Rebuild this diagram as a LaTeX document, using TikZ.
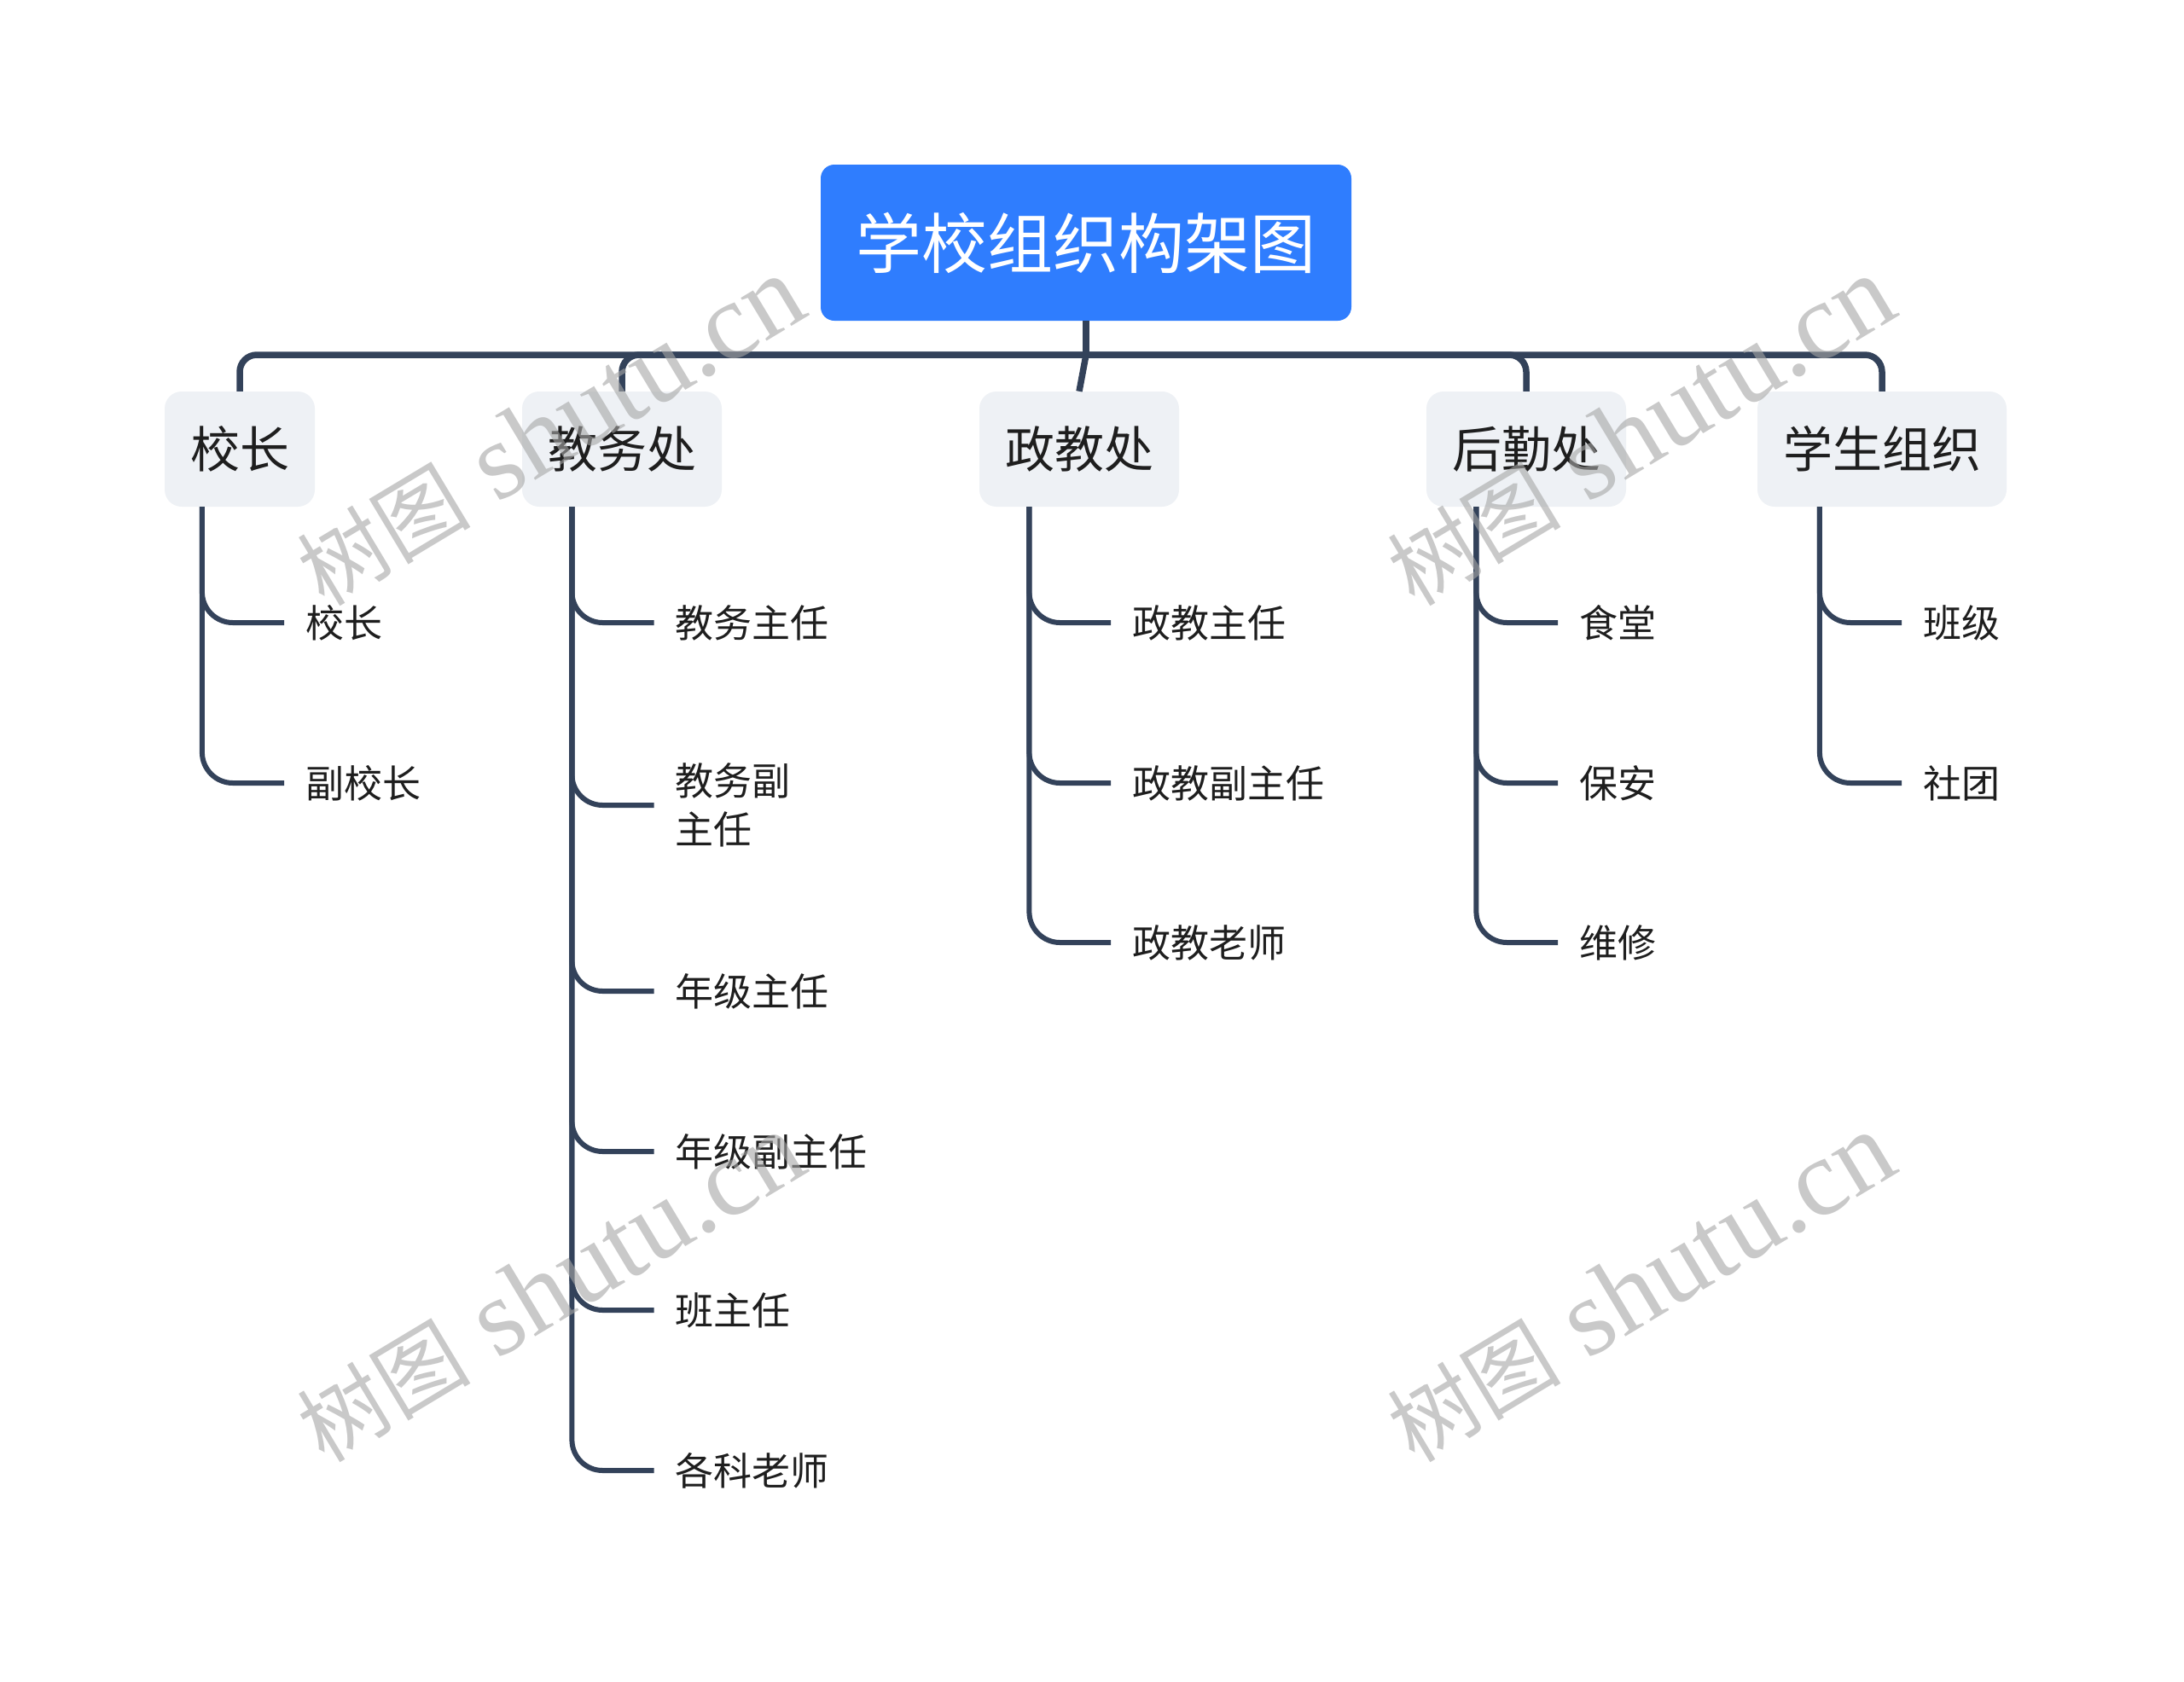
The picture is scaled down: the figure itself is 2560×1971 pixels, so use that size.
\documentclass[tikz,border=0pt]{standalone}
\usepackage{fontspec}
\setmainfont{Liberation Serif}
\newfontfamily\cjk{Noto Sans CJK SC}
\usetikzlibrary{calc}
\definecolor{rootblue}{HTML}{2F7DFE}
\definecolor{catgray}{HTML}{EEF1F5}
\definecolor{linecol}{HTML}{33425A}
\definecolor{textblack}{HTML}{1E1E1E}
\begin{document}
\begin{tikzpicture}[x=1pt,y=-1pt,
  rootbox/.style={fill=rootblue, rounded corners=16pt, minimum width=622pt, minimum height=183pt, inner sep=0pt, text=white, font=\cjk\fontsize{77}{92}\selectfont},
  catbox/.style={fill=catgray, rounded corners=20pt, minimum height=135pt, inner xsep=30pt, inner ysep=0pt, text=textblack, font=\cjk\fontsize{58}{70}\selectfont},
  leafnode/.style={anchor=west, inner xsep=25pt, inner ysep=0pt, text=textblack, align=left, font=\cjk\fontsize{45}{57}\selectfont},
  trunk/.style={draw=linecol, line width=7.5pt, rounded corners=20pt},
  twig/.style={draw=linecol, line width=6pt, rounded corners=36pt},
  wm/.style={text=black!35, text opacity=0.6, rotate=31, inner sep=0pt, font=\fontsize{128}{142}\selectfont}
]
\fill[white] (0,0) rectangle (2560,1971);
\useasboundingbox (0,0) rectangle (2560,1971);

% root and categories
\node[rootbox] (root) at (1273,284.5) {学校组织构架图};
\node[catbox] (c1) at (281,526.5) {校长};
\node[catbox] (c2) at (729,526.5) {教务处};
\node[catbox] (c3) at (1265,526.5) {政教处};
\node[catbox] (c4) at (1789,526.5) {后勤处};
\node[catbox] (c5) at (2206,526.5) {学生组织};

\coordinate (bus) at (1273,416);
\draw[trunk] (root.south) -- (bus);
\draw[trunk] (bus) -| (c1.north);
\draw[trunk] (bus) -| (c2.north);
\draw[trunk] (bus) -- (c3.north);
\draw[trunk] (bus) -| (c4.north);
\draw[trunk] (bus) -| (c5.north);

% stem start points
\coordinate (s1) at ($(c1.south west)!0.25!(c1.south east)$);
\coordinate (s2) at ($(c2.south west)!0.25!(c2.south east)$);
\coordinate (s3) at ($(c3.south west)!0.25!(c3.south east)$);
\coordinate (s4) at ($(c4.south west)!0.25!(c4.south east)$);
\coordinate (s5) at ($(c5.south west)!0.25!(c5.south east)$);

% leaves of 校长
\node[leafnode] (l11) at (333,730) {校长};
\node[leafnode] (l12) at (333,918) {副校长};
% leaves of 教务处
\node[leafnode] (l21) at (766.5,730) {教务主任};
\node[leafnode] (l22) at (766.5,944) {教务副\\主任};
\node[leafnode] (l23) at (766.5,1162) {年级主任};
\node[leafnode] (l24) at (766.5,1350) {年级副主任};
\node[leafnode] (l25) at (766.5,1536) {班主任};
\node[leafnode] (l26) at (766.5,1724) {各科老师};
% leaves of 政教处
\node[leafnode] (l31) at (1302,730) {政教主任};
\node[leafnode] (l32) at (1302,918) {政教副主任};
\node[leafnode] (l33) at (1302,1105) {政教老师};
% leaves of 后勤处
\node[leafnode] (l41) at (1826,730) {食堂};
\node[leafnode] (l42) at (1826,918) {保安};
\node[leafnode] (l43) at (1826,1105) {维修};
% leaves of 学生组织
\node[leafnode] (l51) at (2229,730) {班级};
\node[leafnode] (l52) at (2229,918) {社团};

\foreach \s/\l in {s1/l11,s1/l12,s2/l21,s2/l22,s2/l23,s2/l24,s2/l25,s2/l26,s3/l31,s3/l32,s3/l33,s4/l41,s4/l42,s4/l43,s5/l51,s5/l52}
  \draw[twig] (\s) |- (\l.west);

% watermarks
\node[wm] (w1) at (645,506) {{\cjk\fontsize{102}{116}\selectfont 树图} shutu.cn};
\node[wm] (w2) at (1923,506) {{\cjk\fontsize{102}{116}\selectfont 树图} shutu.cn};
\node[wm] (w3) at (645,1510) {{\cjk\fontsize{102}{116}\selectfont 树图} shutu.cn};
\node[wm] (w4) at (1923,1510) {{\cjk\fontsize{102}{116}\selectfont 树图} shutu.cn};
\end{tikzpicture}
\end{document}
